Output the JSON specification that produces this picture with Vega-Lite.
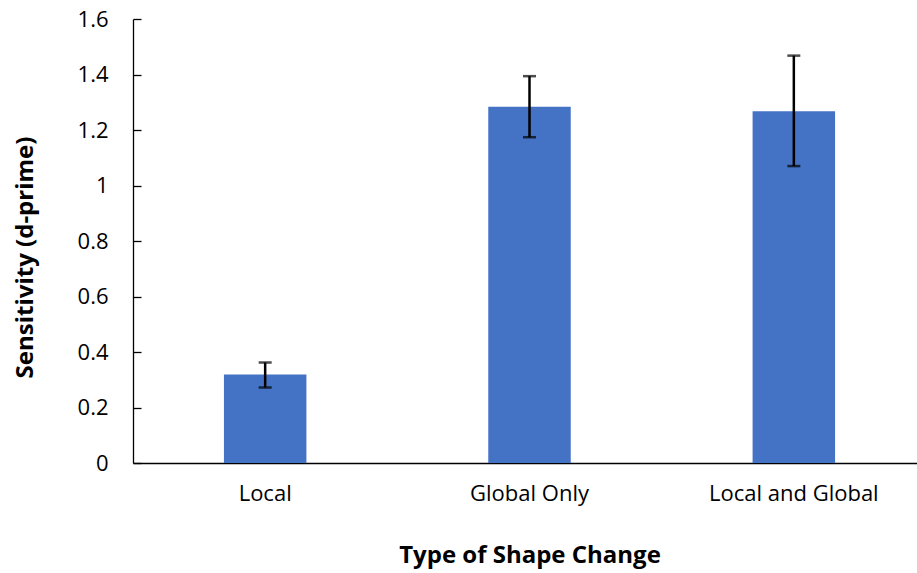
{
  "$schema": "https://vega.github.io/schema/vega-lite/v6.json",
  "autosize": {"type": "none"},
  "padding": {"left": 133, "top": 19, "right": 0, "bottom": 110},
  "width": 793,
  "height": 444,
  "background": "white",
  "data": {"values": [
    {"type": "Local", "value": 0.319, "lo": 0.272, "hi": 0.362},
    {"type": "Global Only", "value": 1.284, "lo": 1.174, "hi": 1.394},
    {"type": "Local and Global", "value": 1.268, "lo": 1.070, "hi": 1.468}
  ]},
  "config": {
    "view": {"stroke": null},
    "font": "Open Sans",
    "axis": {"grid": false, "domainColor": "#000000", "tickColor": "#000000", "labelColor": "#000000", "titleColor": "#000000", "labelFont": "Open Sans", "titleFont": "Open Sans", "labelFontWeight": "normal"}
  },
  "encoding": {
    "x": {"field": "type", "type": "nominal", "sort": null,
      "scale": {"paddingInner": 0.688, "paddingOuter": 0.344},
      "axis": {"title": "Type of Shape Change", "labelAngle": 0, "labelFontSize": 22, "titleFontSize": 24, "titleFontWeight": "bold", "ticks": false, "labelPadding": 20, "titlePadding": 39, "domainWidth": 1.3}}
  },
  "layer": [
    {"mark": {"type": "bar", "color": "#4472C4"},
      "encoding": {"y": {"field": "value", "type": "quantitative",
        "scale": {"domain": [0, 1.6], "nice": false},
        "axis": {"title": "Sensitivity (d-prime)", "values": [0, 0.2, 0.4, 0.6, 0.8, 1, 1.2, 1.4, 1.6], "format": "~g", "labelFontSize": 22, "titleFontSize": 24, "titleFontWeight": "bold", "tickSize": -8, "tickWidth": 1.3, "domainWidth": 1.3, "labelPadding": 33, "titleX": -96, "titleY": 238}}}},
    {"mark": {"type": "rule", "color": "#000000", "strokeWidth": 2.5},
      "encoding": {"y": {"field": "lo", "type": "quantitative"}, "y2": {"field": "hi"}}},
    {"mark": {"type": "tick", "color": "#000000", "thickness": 2.5, "size": 13, "orient": "horizontal"},
      "encoding": {"y": {"field": "lo", "type": "quantitative"}}},
    {"mark": {"type": "tick", "color": "#000000", "thickness": 2.5, "size": 13, "orient": "horizontal"},
      "encoding": {"y": {"field": "hi", "type": "quantitative"}}}
  ]
}
